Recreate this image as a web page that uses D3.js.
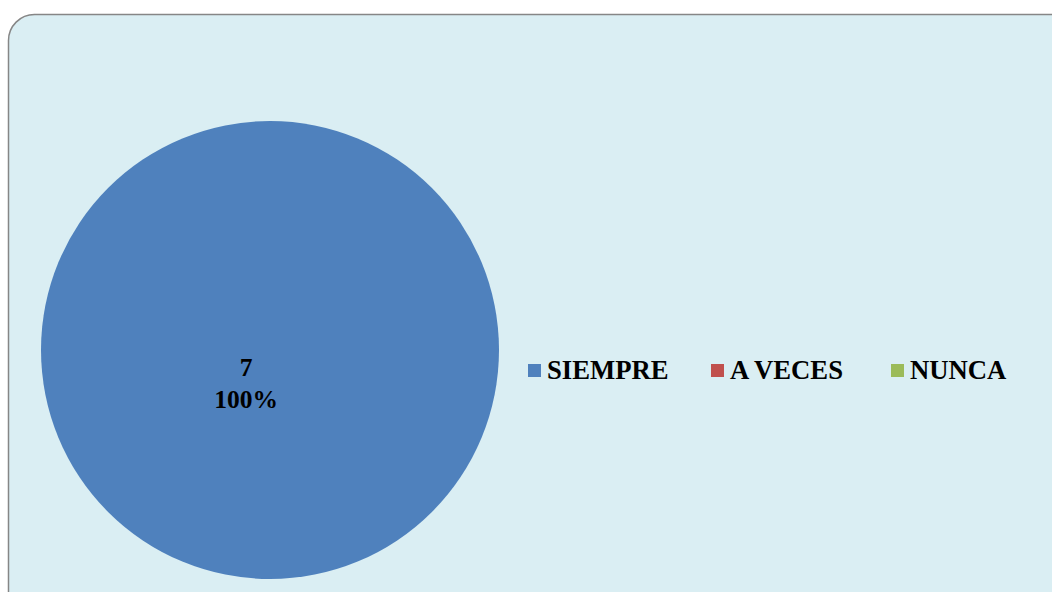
<!DOCTYPE html>
<html>
<head>
<meta charset="utf-8">
<script src="https://cdn.jsdelivr.net/npm/d3@7"></script>
<style>
  body { margin: 0; background: #fff; }
  svg { display: block; }
</style>
</head>
<body>
<div class="chart"></div>
<script>
// data
const categories = ['SIEMPRE', 'A VECES', 'NUNCA']
const values = [7, 0, 0]
const colors = ['#4F81BD', '#C0504D', '#9BBB59']

const width = 1052
const height = 592

const svg = d3.select(".chart")
  .append("svg")
    .attr("width", width)
    .attr("height", height)

// chart area frame, runs off the right and bottom edges
svg.append("rect")
  .attr("x", 8.5)
  .attr("y", 14.5)
  .attr("width", 1080)
  .attr("height", 620)
  .attr("rx", 26)
  .attr("fill", "#DAEEF3")
  .attr("stroke", "#868686")
  .attr("stroke-width", 1.5)

const cx = 270, cy = 350, radius = 229
const total = d3.sum(values)

const pie = d3.pie().sort(null).value(d => d.value)
const arc = d3.arc().innerRadius(0).outerRadius(radius)

const slices = pie(categories.map((c, i) => ({ name: c, value: values[i], color: colors[i] })))

const g = svg.append("g").attr("transform", `translate(${cx},${cy})`)

g.selectAll("path")
  .data(slices.filter(d => d.value > 0))
  .join("path")
    .attr("d", arc)
    .attr("fill", d => d.data.color)

// data labels (single full slice sits in the middle)
const labels = g.selectAll("text.lbl")
  .data(slices.filter(d => d.value > 0))
  .join("text")
    .attr("class", "lbl")
    .attr("text-anchor", "middle")
    .attr("font-family", "Liberation Serif, Times New Roman, serif")
    .attr("font-weight", "bold")
    .attr("font-size", 25.5)
    .attr("fill", "#000")
    .attr("transform", d => (d.endAngle - d.startAngle) >= 2 * Math.PI - 1e-6 ? "translate(-24,0)" : `translate(${arc.centroid(d)})`)

labels.append("tspan").attr("x", 0).attr("y", 26).text(d => d.data.value)
labels.append("tspan").attr("x", 0).attr("y", 58).text(d => Math.round(d.data.value / total * 100) + "%")

// legend
const legendX = [528, 711, 891]
const legend = svg.selectAll("g.legend")
  .data(slices)
  .join("g")
    .attr("class", "legend")
    .attr("transform", (d, i) => `translate(${legendX[i]},364)`)

legend.append("rect")
  .attr("width", 13)
  .attr("height", 13)
  .attr("fill", d => d.data.color)

legend.append("text")
  .attr("x", 19)
  .attr("y", 15)
  .attr("font-family", "Liberation Serif, Times New Roman, serif")
  .attr("font-weight", "bold")
  .attr("font-size", 26.7)
  .attr("fill", "#000")
  .text(d => d.data.name)
</script>
</body>
</html>
